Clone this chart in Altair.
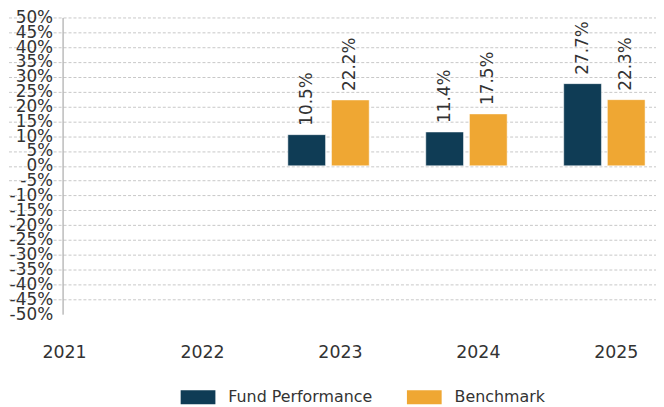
import altair as alt
import pandas as pd

years = ["2021", "2022", "2023", "2024", "2025"]
bar_years = ["2023", "2024", "2025"]
fund = [10.5, 11.4, 27.7]
bench = [22.2, 17.5, 22.3]
series = ["Fund Performance", "Benchmark"]
colors = ["#0f3c55", "#efa733"]
y_ticks = list(range(-50, 55, 5))

rows = []
for i, yr in enumerate(bar_years):
    rows.append({"year": yr, "series": series[0], "value": fund[i]})
    rows.append({"year": yr, "series": series[1], "value": bench[i]})
df = pd.DataFrame(rows)
df["label"] = df["value"].map(lambda v: f"{v:.1f}%")

FONT = "DejaVu Sans"
TXT = "#333333"

x = alt.X(
    "year:N",
    sort=years,
    scale=alt.Scale(domain=years, range=[-79.5, 615.5], paddingInner=0, paddingOuter=0),
    axis=alt.Axis(title=None, domain=False, ticks=False, labelAngle=0, labelOffset=12,
                  labelPadding=30, labelFontSize=17.5, labelColor=TXT, labelFont=FONT,
                  grid=False),
)
xo = alt.XOffset("series:N", sort=series,
                 scale=alt.Scale(domain=series, paddingInner=0.136, paddingOuter=0.648))
y = alt.Y(
    "value:Q",
    scale=alt.Scale(domain=[-50, 50], nice=False, zero=False),
    axis=alt.Axis(title=None, values=y_ticks, labelExpr="datum.value + '%'", ticks=False,
                  domain=True, domainColor="#999999", labelPadding=10, labelFontSize=17,
                  labelOverlap=False, labelBound=False,
                  labelFont=FONT, labelColor=TXT, grid=True, gridDash=[3, 2],
                  gridColor="#c8c8c8",
                  gridOpacity={"condition": {"test": "datum.value <= -50", "value": 0}, "value": 1}),
)
color = alt.Color(
    "series:N",
    sort=series,
    scale=alt.Scale(domain=series, range=colors),
    legend=alt.Legend(orient="none", legendX=119, legendY=365, direction="horizontal",
                      title=None, symbolType="M-1,-0.4H1V0.4H-1Z", symbolSize=1225,
                      symbolStrokeWidth=0, labelFontSize=16, labelFont=FONT, labelColor=TXT,
                      labelOffset=13, columnPadding=34, padding=0, labelLimit=300),
)

bars = alt.Chart(df).mark_bar(stroke="#ffffff", strokeOpacity=0.5, strokeWidth=1).encode(
    x=x, xOffset=xo, y=y, color=color
)
labels = alt.Chart(df).mark_text(angle=270, align="left", baseline="middle", dx=9,
                                 fontSize=17, font=FONT, color=TXT).encode(
    x=x, xOffset=xo, y=y, text="label:N"
)

chart = (bars + labels).properties(
    width=598, height=299,
    autosize=alt.AutoSizeParams(type="none"),
    padding={"left": 55, "top": 8, "right": 0, "bottom": 92},
).configure_view(stroke=None)

chart.save("out.html", embed_options={"renderer": "svg", "actions": False})
